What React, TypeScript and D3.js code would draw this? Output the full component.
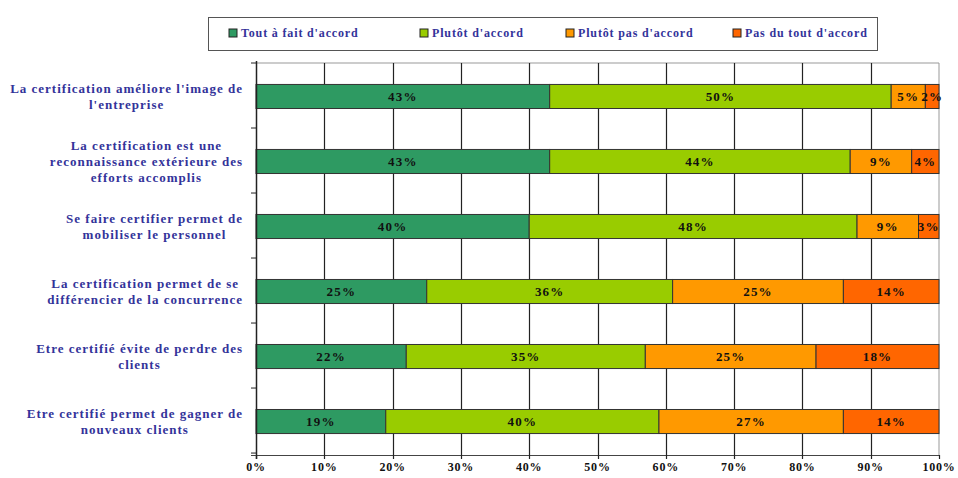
import React, { useEffect, useRef } from 'react';
import * as d3 from 'd3';

const categories = [
  "La certification améliore l'image de|l'entreprise",
  "La certification est une|reconnaissance extérieure des|efforts accomplis",
  "Se faire certifier permet de|mobiliser le personnel",
  "La certification permet de se|différencier de la concurrence",
  "Etre certifié évite de perdre des|clients",
  "Etre certifié permet de gagner de|nouveaux clients",
];

const seriesNames = ["Tout à fait d'accord", "Plutôt d'accord", "Plutôt pas d'accord", "Pas du tout d'accord"];
const toutAFait = [43, 43, 40, 25, 22, 19];
const plutot = [50, 44, 48, 36, 35, 40];
const plutotPas = [5, 9, 9, 25, 25, 27];
const pasDuTout = [2, 4, 3, 14, 18, 14];
const colors = ['#2e9a62', '#99cc00', '#ff9900', '#ff6600'];
const ticks = [0, 10, 20, 30, 40, 50, 60, 70, 80, 90, 100];

const W = 958;
const H = 478;
const FONT = "'Liberation Serif', 'Times New Roman', serif";
const NAVY = '#33339a';

const App: React.FC = () => {
  const ref = useRef<SVGSVGElement | null>(null);

  useEffect(() => {
    if (!ref.current) return;
    const svg = d3.select(ref.current);
    svg.selectAll('*').remove();

    const left = 256, right = 939, top = 63, bottom = 455;
    const x = d3.scaleLinear().domain([0, 100]).range([left, right]);
    const y = d3.scaleBand<number>()
      .domain(d3.range(categories.length))
      .range([top, bottom])
      .paddingInner(0.63)
      .paddingOuter(0.33);

    const rows = categories.map((c, i) => ({
      cat: c,
      vals: [toutAFait[i], plutot[i], plutotPas[i], pasDuTout[i]],
    }));

    svg.append('rect').attr('width', W).attr('height', H).attr('fill', '#fff');

    // plot frame top/right
    svg.append('line').attr('x1', left).attr('x2', right).attr('y1', top).attr('y2', top)
      .attr('stroke', '#999').attr('stroke-width', 1);
    svg.append('line').attr('x1', right).attr('x2', right).attr('y1', top).attr('y2', bottom)
      .attr('stroke', '#999').attr('stroke-width', 1);

    // grid
    svg.append('g').selectAll('line').data(ticks.slice(1, -1)).join('line')
      .attr('x1', d => Math.round(x(d)) + 0.5).attr('x2', d => Math.round(x(d)) + 0.5)
      .attr('y1', top).attr('y2', bottom)
      .attr('stroke', '#222').attr('stroke-width', 1.2);

    // bars
    rows.forEach((r, i) => {
      let acc = 0;
      const g = svg.append('g');
      r.vals.forEach((v, k) => {
        const x0 = x(acc), x1 = x(acc + v);
        acc += v;
        g.append('rect')
          .attr('x', x0).attr('y', y(i)!)
          .attr('width', x1 - x0).attr('height', y.bandwidth())
          .attr('fill', colors[k]).attr('stroke', '#333').attr('stroke-width', 1);
        g.append('text')
          .attr('x', (x0 + x1) / 2).attr('y', y(i)! + y.bandwidth() / 2)
          .attr('dy', '0.35em').attr('text-anchor', 'middle')
          .style('font-family', FONT).style('font-weight', 'bold')
          .style('font-size', '13px').style('letter-spacing', '1.2px')
          .attr('fill', '#111')
          .text(v + '%');
      });
    });

    // y axis
    svg.append('line').attr('x1', left + 0.5).attr('x2', left + 0.5).attr('y1', top - 2).attr('y2', bottom + 4)
      .attr('stroke', '#222').attr('stroke-width', 1.5);
    const yTicks = d3.range(categories.length + 1).map(i => top + i * y.step());
    svg.append('g').selectAll('line').data(yTicks).join('line')
      .attr('x1', left - 5).attr('x2', left).attr('y1', d => d).attr('y2', d => d)
      .attr('stroke', '#222').attr('stroke-width', 1);

    // x axis
    svg.append('line').attr('x1', left - 5).attr('x2', right).attr('y1', bottom + 0.5).attr('y2', bottom + 0.5)
      .attr('stroke', '#444').attr('stroke-width', 1);
    svg.append('g').selectAll('line').data(ticks).join('line')
      .attr('x1', d => Math.round(x(d)) + 0.5).attr('x2', d => Math.round(x(d)) + 0.5)
      .attr('y1', bottom).attr('y2', bottom + 4)
      .attr('stroke', '#222').attr('stroke-width', 1.2);
    svg.append('g').selectAll('text').data(ticks).join('text')
      .attr('x', d => x(d)).attr('y', 471)
      .attr('text-anchor', 'middle')
      .style('font-family', FONT).style('font-weight', 'bold').style('font-size', '12px')
      .style('letter-spacing', '0.8px')
      .attr('fill', '#111')
      .text(d => d + '%');

    // category labels: centered block, right edge at 243
    rows.forEach((r, i) => {
      const lines = r.cat.split('|');
      const t = svg.append('text')
        .style('font-family', FONT).style('font-weight', 'bold').style('font-size', '13px')
        .style('letter-spacing', '1px')
        .attr('fill', NAVY).attr('text-anchor', 'middle');
      const lh = 16;
      const cy = y(i)! + y.bandwidth() / 2;
      const y0 = cy - ((lines.length - 1) * lh) / 2;
      lines.forEach((l, j) => {
        t.append('tspan').attr('y', y0 + j * lh).attr('dy', '0.35em').text(l);
      });
      const spans = t.selectAll<SVGTSpanElement, unknown>('tspan').nodes();
      const maxW = d3.max(spans, s => s.getComputedTextLength()) ?? 0;
      spans.forEach(s => d3.select(s).attr('x', 243 - maxW / 2));
    });

    // legend
    const lg = svg.append('g');
    lg.append('rect').attr('x', 208.5).attr('y', 17.5).attr('width', 669).attr('height', 33)
      .attr('fill', '#fff').attr('stroke', '#555').attr('stroke-width', 1);
    const lx = [229, 420, 566, 733];
    seriesNames.forEach((n, k) => {
      lg.append('rect').attr('x', lx[k]).attr('y', 29).attr('width', 8).attr('height', 8)
        .attr('fill', colors[k]).attr('stroke', '#222').attr('stroke-width', 1);
      lg.append('text').attr('x', lx[k] + 12).attr('y', 33).attr('dy', '0.35em')
        .style('font-family', FONT).style('font-weight', 'bold').style('font-size', '12px')
        .style('letter-spacing', '0.85px')
        .attr('fill', NAVY).text(n);
    });
  }, []);

  return <svg ref={ref} width={W} height={H} style={{ position: 'absolute', left: 0, top: 0 }} />;
};

export default App;
